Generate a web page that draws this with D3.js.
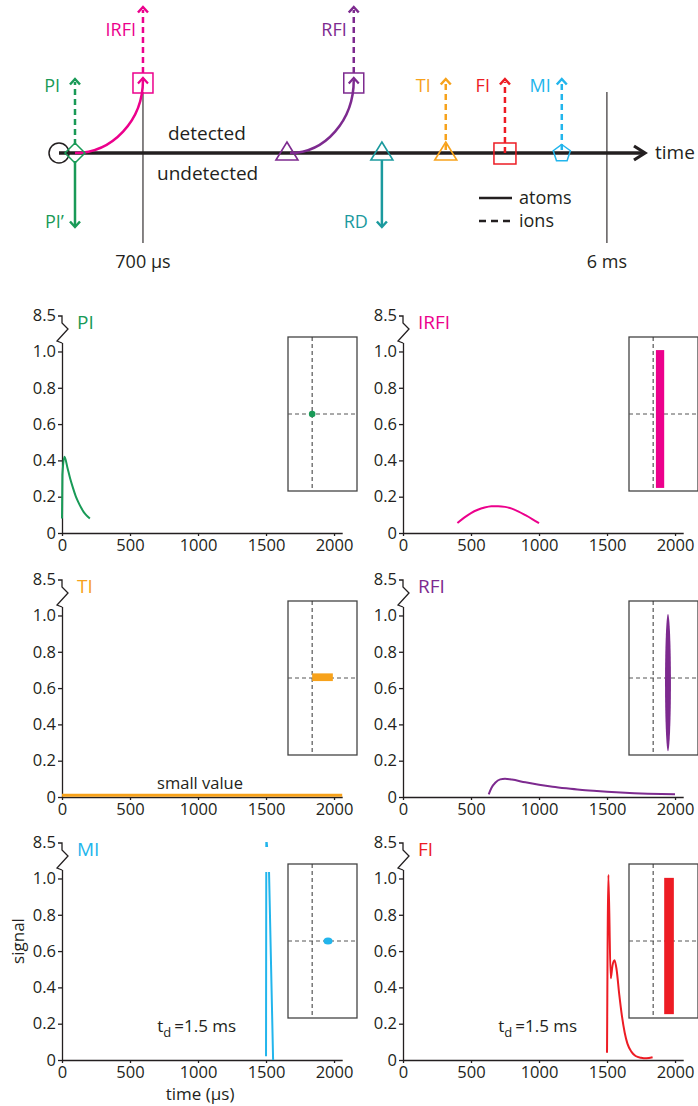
<!DOCTYPE html>
<html><head><meta charset="utf-8">
<script src="https://cdn.jsdelivr.net/npm/d3@7"></script>
<style>
body{margin:0;background:#fff}
svg{display:block}
text{font-family:"Open Sans",sans-serif}
</style>
</head><body>
<svg id="c" width="698" height="1106"></svg>
<script>
// ---------------- data ----------------
const xTicks = [0, 500, 1000, 1500, 2000];
const yTicks = [0, 0.2, 0.4, 0.6, 0.8, 1.0];
const yBreakTick = 8.5;

const piValues   = [[0,0.08],[3,0.32],[18,0.42],[40,0.36],[60,0.30],[80,0.25],[100,0.205],[120,0.17],[140,0.14],[160,0.115],[180,0.097],[205,0.08]];
const irfiValues = [[400,0.055],[450,0.085],[500,0.11],[550,0.128],[600,0.14],[650,0.147],[700,0.148],[750,0.144],[800,0.134],[850,0.118],[900,0.098],[950,0.077],[1000,0.055]];
const tiValues   = [[0,0.01],[2060,0.01]];
const rfiValues  = [[630,0.015],[650,0.05],[680,0.08],[715,0.097],[750,0.101],[800,0.096],[900,0.081],[1000,0.068],[1100,0.057],[1200,0.048],[1300,0.040],[1400,0.034],[1500,0.029],[1600,0.025],[1700,0.021],[1800,0.018],[1900,0.016],[2000,0.015]];
const miValues   = [[1500,0.02],[1502,8.6],[1504,8.6],[1522,1.04],[1552,0]];
const fiValues   = [[1500,0.04],[1510,1.02],[1527,0.45],[1540,0.52],[1555,0.55],[1570,0.50],[1590,0.36],[1610,0.24],[1630,0.15],[1650,0.09],[1680,0.045],[1710,0.022],[1750,0.012],[1790,0.009],[1835,0.015]];

const panelNames  = ["PI","IRFI","TI","RFI","MI","FI"];
const panelColors = ["#199a57","#ec008c","#f7a21b","#7d2a8f","#22b5ec","#ed1c24"];
const panelSeries = [piValues, irfiValues, tiValues, rfiValues, miValues, fiValues];
// inset marks in fractional inset units (x: 0..1 left→right, y: 0..1 top→bottom)
const insetShapes = [
  {type:"dot",  cx:0.35, cy:0.5, r:3.3},
  {type:"rect", x0:0.39, x1:0.51, y0:0.085, y1:0.98},
  {type:"rect", x0:0.35, x1:0.65, y0:0.47, y1:0.52},
  {type:"ellipse", cx:0.565, cy:0.53, rx:0.043, ry:0.445},
  {type:"ellipse", cx:0.58, cy:0.5, rx:0.065, ry:0.023},
  {type:"rect", x0:0.51, x1:0.65, y0:0.09, y1:0.975}
];
const tdLabel = "=1.5 ms";

// top timeline (schematic positions 0..100)
const markerNames = ["start","PI","IRFI","RFI0","RFI","RD","TI","FI","MI"];
const markerPos   = [0, 2.73, 14.33, 38.9, 50.3, 55.1, 66.0, 76.1, 85.8];
const pos = Object.fromEntries(markerNames.map((n,i)=>[n,markerPos[i]]));
const scaleLines = [{p:14.33,label:"700 μs"},{p:93.5,label:"6 ms"}];

// ---------------- drawing ----------------
const ink = "#231f20";
const svg = d3.select("#c").attr("fill",ink);
const C = {green:"#199a57",pink:"#ec008c",purple:"#7d2a8f",teal:"#1b9a9e",orange:"#f7a21b",red:"#ed1c24",cyan:"#22b5ec"};

const tx = d3.scaleLinear().domain([0,100]).range([59,645]);
const AY = 153;
const topG = svg.append("g");

function chevron(g,x,y,dir,color,w){
  const h = 5, l = 5.5*dir;
  g.append("path").attr("d",`M${x-h},${y-l}L${x},${y}L${x+h},${y-l}`)
    .attr("fill","none").attr("stroke",color).attr("stroke-width",w||2.5)
    .attr("stroke-linejoin","miter");
}
function vline(g,x,y1,y2,color,dashed,w){
  g.append("line").attr("x1",x).attr("x2",x).attr("y1",y1).attr("y2",y2)
   .attr("stroke",color).attr("stroke-width",w||2.5)
   .attr("stroke-dasharray",dashed?"6,4":null);
}
function label(g,x,y,t,color,anchor,size){
  g.append("text").attr("x",x).attr("y",y).text(t).attr("fill",color||ink)
   .attr("text-anchor",anchor||"start").style("font-size",(size||18)+"px");
}

scaleLines.forEach(s=>{
  topG.append("line").attr("x1",tx(s.p)).attr("x2",tx(s.p)).attr("y1",92).attr("y2",243)
    .attr("stroke",ink).attr("stroke-width",1.1);
  label(topG,tx(s.p),268,s.label,ink,"middle",18);
});

topG.append("line").attr("x1",tx(0)).attr("x2",tx(100)-1).attr("y1",AY).attr("y2",AY)
  .attr("stroke",ink).attr("stroke-width",3.5);
topG.append("path").attr("d",`M${tx(100)-11},${AY-7}L${tx(100)},${AY}L${tx(100)-11},${AY+7}`)
  .attr("fill","none").attr("stroke",ink).attr("stroke-width",3.2);
label(topG,655,159,"time",ink,"start",19);
label(topG,168,140,"detected",ink,"start",19);
label(topG,157,180,"undetected",ink,"start",19);

topG.append("circle").attr("cx",tx(pos.start)).attr("cy",AY).attr("r",10)
  .attr("fill","none").attr("stroke",ink).attr("stroke-width",1.5);

const xPI = tx(pos.PI);
vline(topG,xPI,AY-8,82,C.green,true);
chevron(topG,xPI,79,-1,C.green);
vline(topG,xPI,AY+8,226,C.green,false);
chevron(topG,xPI,227,1,C.green);
label(topG,xPI-15,92,"PI",C.green,"end");
label(topG,xPI-30,228,"PI’",C.green,"start");

const xIR = tx(pos.IRFI);
topG.append("path").attr("d",`M${xPI},${AY}A${xIR-xPI},${AY-80} 0 0 0 ${xIR},80`)
  .attr("fill","none").attr("stroke",C.pink).attr("stroke-width",2.5);
chevron(topG,xIR,78,-1,C.pink,2.2);
topG.append("rect").attr("x",xIR-10).attr("y",73).attr("width",20).attr("height",20)
  .attr("fill","none").attr("stroke",C.pink).attr("stroke-width",1.5);
vline(topG,xIR,73,10,C.pink,true);
chevron(topG,xIR,7,-1,C.pink);
label(topG,xIR-7,36,"IRFI",C.pink,"end");

topG.append("path").attr("d",`M${xPI-10},${AY}L${xPI},${AY-10}L${xPI+10},${AY}L${xPI},${AY+10}Z`)
  .attr("fill","none").attr("stroke",C.green).attr("stroke-width",1.5);

function tri(g,x,color){
  g.append("path").attr("d",`M${x},${AY-11}L${x+11},${AY+7}L${x-11},${AY+7}Z`)
   .attr("fill","none").attr("stroke",color).attr("stroke-width",1.6);
}
const xR0 = tx(pos.RFI0), xR = tx(pos.RFI);
topG.append("path").attr("d",`M${xR0+3},${AY}A${xR-xR0-3},${AY-80} 0 0 0 ${xR},80`)
  .attr("fill","none").attr("stroke",C.purple).attr("stroke-width",2.5);
tri(topG,xR0,C.purple);
chevron(topG,xR,78,-1,C.purple,2.2);
topG.append("rect").attr("x",xR-10).attr("y",73).attr("width",20).attr("height",20)
  .attr("fill","none").attr("stroke",C.purple).attr("stroke-width",1.5);
vline(topG,xR,73,10,C.purple,true);
chevron(topG,xR,7,-1,C.purple);
label(topG,xR-7,36,"RFI",C.purple,"end");

const xRD = tx(pos.RD);
tri(topG,xRD,C.teal);
vline(topG,xRD,AY+7,226,C.teal,false);
chevron(topG,xRD,227,1,C.teal);
label(topG,xRD-14,228,"RD",C.teal,"end");

const xTI = tx(pos.TI);
vline(topG,xTI,AY-3,82,C.orange,true);
chevron(topG,xTI,79,-1,C.orange);
tri(topG,xTI,C.orange);
label(topG,xTI-15,92,"TI",C.orange,"end");

const xFI = tx(pos.FI);
vline(topG,xFI,AY,82,C.red,true);
chevron(topG,xFI,79,-1,C.red);
topG.append("rect").attr("x",xFI-11).attr("y",AY-10).attr("width",22).attr("height",21)
  .attr("fill","none").attr("stroke",C.red).attr("stroke-width",1.5);
label(topG,xFI-15,92,"FI",C.red,"end");

const xMI = tx(pos.MI);
vline(topG,xMI,AY-3,82,C.cyan,true);
chevron(topG,xMI,79,-1,C.cyan);
const pent = d3.range(5).map(i=>{const a=-Math.PI/2+i*2*Math.PI/5;return [xMI+9*Math.cos(a),AY+0.5+9*Math.sin(a)];});
topG.append("path").attr("d","M"+pent.join("L")+"Z").attr("fill","none").attr("stroke",C.cyan).attr("stroke-width",1.5);
label(topG,xMI-11,92,"MI",C.cyan,"end");

topG.append("line").attr("x1",479).attr("x2",512).attr("y1",198).attr("y2",198).attr("stroke",ink).attr("stroke-width",2.5);
topG.append("line").attr("x1",479).attr("x2",512).attr("y1",221).attr("y2",221).attr("stroke",ink).attr("stroke-width",2.5).attr("stroke-dasharray","7,5");
label(topG,519,204,"atoms",ink,"start",18);
label(topG,519,227,"ions",ink,"start",18);

// ---------------- panels ----------------
const colX = [62, 403];
const rowB = [533, 797, 1060];
const insetX = [288, 629];
const defs = svg.append("defs");

panelNames.forEach((name,i)=>{
  const col = i%2, row = Math.floor(i/2);
  const x0 = colX[col], b = rowB[row], color = panelColors[i];
  const g = svg.append("g");
  const x = d3.scaleLinear().domain([0,2060]).range([x0, x0+280.2]);
  const yLow = d3.scaleLinear().domain([0,1.05]).range([b, b-190.6]);
  const y = d3.scaleLinear().domain([0,1.05,8.3,8.7]).range([b,b-190.6,b-212,b-222]);

  const ix = d3.scaleLinear().domain([0,1]).range([insetX[col], insetX[col]+69]);
  const iy = d3.scaleLinear().domain([0,1]).range([b-196, b-42]);
  const ig = g.append("g");
  ig.append("rect").attr("x",ix(0)).attr("y",iy(0)).attr("width",ix(1)-ix(0)).attr("height",iy(1)-iy(0))
    .attr("fill","none").attr("stroke","#444").attr("stroke-width",1.3);
  ig.append("line").attr("x1",ix(0.35)).attr("x2",ix(0.35)).attr("y1",iy(0)).attr("y2",iy(1))
    .attr("stroke","#333").attr("stroke-width",1).attr("stroke-dasharray","4,3");
  ig.append("line").attr("x1",ix(0)).attr("x2",ix(1)).attr("y1",iy(0.5)).attr("y2",iy(0.5))
    .attr("stroke","#555").attr("stroke-width",1).attr("stroke-dasharray","4,3");
  const s = insetShapes[i];
  if(s.type==="dot") ig.append("circle").attr("cx",ix(s.cx)).attr("cy",iy(s.cy)).attr("r",s.r).attr("fill",color);
  if(s.type==="rect") ig.append("rect").attr("x",ix(s.x0)).attr("y",iy(s.y0)).attr("width",ix(s.x1)-ix(s.x0)).attr("height",iy(s.y1)-iy(s.y0)).attr("fill",color);
  if(s.type==="ellipse") ig.append("ellipse").attr("cx",ix(s.cx)).attr("cy",iy(s.cy)).attr("rx",ix(s.rx)-ix(0)).attr("ry",iy(s.ry)-iy(0)).attr("fill",color);

  const ax = g.append("g").attr("transform",`translate(0,${b})`)
    .call(d3.axisBottom(x).tickValues(xTicks).tickSize(3).tickPadding(3).tickSizeOuter(0).tickFormat(d3.format("d")));
  const ay = g.append("g").attr("transform",`translate(${x0},0)`)
    .call(d3.axisLeft(yLow).tickValues(yTicks).tickSize(4).tickPadding(2).tickSizeOuter(0)
      .tickFormat(d=>d===0?"0":d.toFixed(1)));
  [ax,ay].forEach(a=>{
    a.selectAll("path,line").attr("stroke",ink).attr("stroke-width",1.3);
    a.selectAll("text").style("font-size","16.5px").attr("fill",ink).style("font-family",'"Open Sans",sans-serif');
  });
  const yt = y(yBreakTick);
  g.append("path").attr("d",`M${x0},${b-190}L${x0-5},${b-192}L${x0+6},${b-204}L${x0},${b-210}L${x0},${yt}L${x0-4},${yt}`)
    .attr("fill","none").attr("stroke",ink).attr("stroke-width",1.3);
  g.append("text").attr("x",x0-6).attr("y",yt).attr("dy","0.32em").attr("text-anchor","end")
    .attr("fill",ink).style("font-size","16.5px").text(yBreakTick.toFixed(1));
  g.append("text").attr("x",x0+15).attr("y",b-204).attr("fill",color).style("font-size","19px").text(name);

  const data = panelSeries[i];
  if(name==="TI"){
    g.append("path").datum(data).attr("d",d3.line().x(d=>x(d[0])).y(d=>y(d[1])))
      .attr("fill","none").attr("stroke",color).attr("stroke-width",3);
    g.append("text").attr("x",x(1015)).attr("y",b-8).attr("text-anchor","middle").attr("fill",ink).style("font-size","16.5px").text("small value");
  } else if(name==="MI"){
    const cid = "clipMI";
    const cp = defs.append("clipPath").attr("id",cid);
    cp.append("rect").attr("x",x0).attr("y",b-188).attr("width",300).attr("height",190);
    cp.append("rect").attr("x",x0).attr("y",b-218).attr("width",300).attr("height",5);
    g.append("path").datum(data).attr("clip-path",`url(#${cid})`)
      .attr("d",d3.line().x(d=>x(d[0])).y(d=>y(d[1])))
      .attr("fill","none").attr("stroke",color).attr("stroke-width",2);
  } else {
    g.append("path").datum(data)
      .attr("d",d3.line().x(d=>x(d[0])).y(d=>y(d[1])).curve(d3.curveMonotoneX))
      .attr("fill","none").attr("stroke",color).attr("stroke-width",2);
  }
  if(row===2){
    const t = g.append("text").attr("x",x(700)).attr("y",b-28).attr("fill",ink).style("font-size","17px");
    t.append("tspan").text("t");
    t.append("tspan").attr("dy","5").style("font-size","13px").text("d");
    t.append("tspan").attr("dy","-5").attr("dx","3").text(tdLabel);
  }
  if(i===4){
    g.append("text").attr("x",x(1015)).attr("y",1100).attr("text-anchor","middle").attr("fill",ink).style("font-size","17px").text("time (μs)");
    g.append("text").attr("transform",`translate(24,${b-119}) rotate(-90)`).attr("text-anchor","middle").attr("fill",ink).style("font-size","17px").text("signal");
  }
});
</script>
</body></html>
